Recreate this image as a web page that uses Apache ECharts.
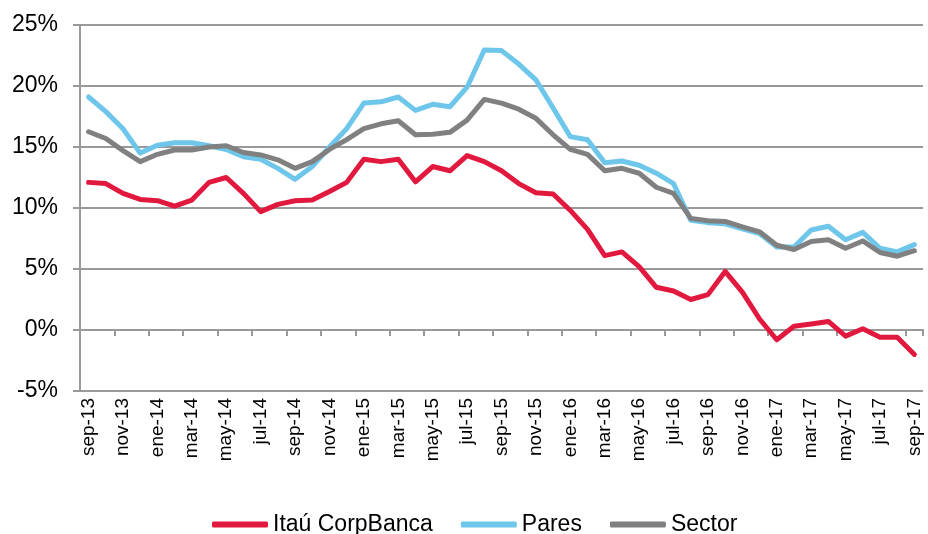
<!DOCTYPE html>
<html>
<head>
<meta charset="utf-8">
<script src="https://cdn.jsdelivr.net/npm/echarts@6/dist/echarts.min.js"></script>
<style>
html,body{margin:0;padding:0;background:#fff;}
#chart{width:928px;height:534px;}
</style>
</head>
<body>
<div id="chart"></div>
<script>
// meses sep-13 .. sep-17
var meses = ["sep-13","oct-13","nov-13","dic-13","ene-14","feb-14","mar-14","abr-14","may-14","jun-14",
	"jul-14","ago-14","sep-14","oct-14","nov-14","dic-14","ene-15","feb-15","mar-15","abr-15",
	"may-15","jun-15","jul-15","ago-15","sep-15","oct-15","nov-15","dic-15","ene-16","feb-16",
	"mar-16","abr-16","may-16","jun-16","jul-16","ago-16","sep-16","oct-16","nov-16","dic-16",
	"ene-17","feb-17","mar-17","abr-17","may-17","jun-17","jul-17","ago-17","sep-17"];

var itau = [12.1,12.0,11.2,10.7,10.6,10.15,10.65,12.1,12.5,11.2,
	9.7,10.3,10.6,10.65,11.35,12.1,14.0,13.8,14.0,12.15,
	13.4,13.05,14.3,13.8,13.05,12.0,11.25,11.15,9.8,8.25,
	6.1,6.4,5.2,3.5,3.2,2.5,2.9,4.8,3.1,0.9,
	-0.8,0.3,0.5,0.7,-0.5,0.1,-0.6,-0.6,-2.0];

var pares = [19.1,17.9,16.5,14.5,15.15,15.35,15.35,15.1,14.8,14.2,
	14.0,13.25,12.35,13.4,15.0,16.5,18.6,18.7,19.1,18.0,
	18.5,18.3,19.9,22.95,22.9,21.8,20.5,18.2,15.85,15.6,
	13.7,13.85,13.5,12.85,12.0,9.0,8.8,8.7,8.3,7.9,
	6.8,6.8,8.2,8.5,7.4,8.0,6.7,6.4,7.0];

var sector = [16.25,15.7,14.7,13.8,14.4,14.75,14.75,15.0,15.1,14.55,
	14.35,13.95,13.25,13.8,14.8,15.6,16.5,16.9,17.15,16.0,
	16.05,16.2,17.2,18.9,18.6,18.1,17.35,16.0,14.8,14.4,
	13.05,13.25,12.85,11.7,11.2,9.15,8.95,8.9,8.45,8.05,
	6.95,6.6,7.25,7.4,6.7,7.3,6.35,6.05,6.5];

var yTicks = [-5, 0, 5, 10, 15, 20, 25];

var gris = '#999999';
var fuente = "'Liberation Sans', Arial, sans-serif";

var myChart = echarts.init(document.getElementById('chart'));

function serie(nombre, datos, color){
	return {
		name: nombre,
		type: 'line',
		xAxisIndex: 0,
		data: datos,
		symbol: 'none',
		smooth: false,
		lineStyle: { width: 5, color: color, cap: 'round', join: 'round' },
		itemStyle: { color: color }
	};
}

var option = {
	animation: false,
	grid: { left: 80, right: 5, top: 25, bottom: 143 },
	legend: {
		left: 207,
		top: 508,
		icon: 'roundRect',
		itemWidth: 56,
		itemHeight: 6,
		itemGap: 28,
		textStyle: { fontFamily: fuente, fontSize: 23, color: '#000' },
		data: ['Itaú CorpBanca', 'Pares', 'Sector']
	},
	xAxis: [{
		// eje en 0% con marcas
		type: 'category',
		data: meses,
		position: 'bottom',
		axisLine: { show: true, onZero: true, lineStyle: { color: gris, width: 2 } },
		axisTick: { show: true, interval: 1, length: 6, lineStyle: { color: gris, width: 2 } },
		axisLabel: { show: false }
	}, {
		// etiquetas abajo
		type: 'category',
		data: meses,
		position: 'bottom',
		axisLine: { show: false, onZero: false },
		axisTick: { show: false },
		axisLabel: {
			interval: 1,
			rotate: 90,
			margin: 7,
			fontFamily: fuente,
			fontSize: 19,
			color: '#000'
		}
	}],
	yAxis: {
		type: 'value',
		min: yTicks[0],
		max: yTicks[yTicks.length - 1],
		interval: 5,
		axisLine: { show: true, lineStyle: { color: gris, width: 2 } },
		axisTick: { show: true, length: 7, lineStyle: { color: gris, width: 2 } },
		splitLine: { show: true, lineStyle: { color: gris, width: 2 } },
		axisLabel: {
			formatter: '{value}%',
			margin: 22,
			fontFamily: fuente,
			fontSize: 23,
			color: '#000'
		}
	},
	series: [
		serie('Itaú CorpBanca', itau, '#e2193f'),
		serie('Pares', pares, '#6ec6ea'),
		serie('Sector', sector, '#808080')
	]
};
myChart.setOption(option);
</script>
</body>
</html>
